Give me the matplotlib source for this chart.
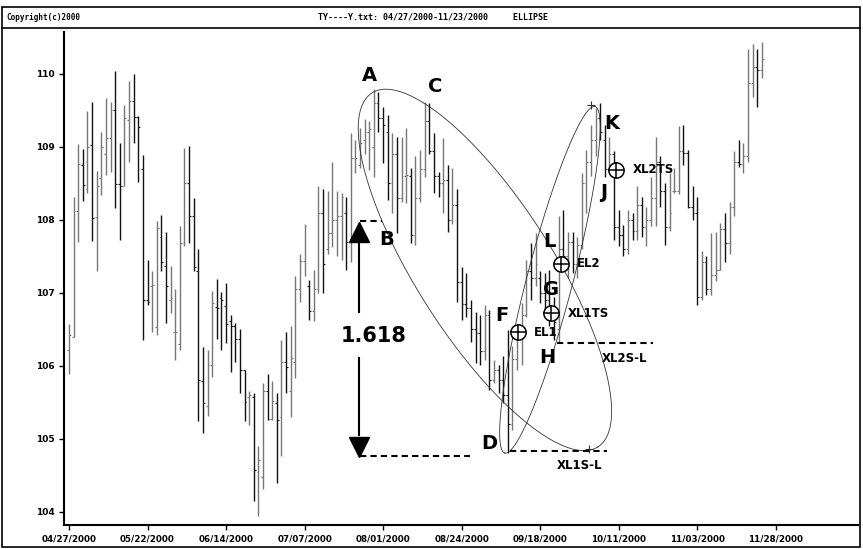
import numpy as np
import matplotlib
matplotlib.use("Agg")
import matplotlib.pyplot as plt
from matplotlib.patches import Rectangle
from matplotlib.lines import Line2D

# daily OHLC (bar index 0 = 04/27/2000)
opens = [106.22, 106.40, 108.12, 108.75, 108.43, 109.02, 108.04, 108.57, 108.91, 109.12,
         109.51, 108.49, 108.47, 109.37, 109.63, 109.41, 108.70, 106.90, 107.09, 106.53,
         107.76, 107.37, 106.90, 106.46, 106.30, 107.68, 108.50, 108.05, 107.30, 105.79,
         105.45, 106.01, 106.81, 106.93, 106.82, 106.61, 106.54, 106.37, 105.94, 105.58,
         105.57, 104.55, 104.48, 105.65, 105.27, 105.49, 105.30, 106.06, 105.65, 106.06,
         107.05, 107.44, 107.10, 106.75, 107.06, 108.09, 107.60, 107.82, 108.00, 108.05,
         108.10, 107.70, 108.85, 108.75, 109.10, 109.20, 109.00, 109.60, 109.40, 109.20,
         108.50, 108.90, 108.30, 108.60, 108.60, 107.80, 108.30, 108.70, 109.35, 108.95,
         108.60, 108.50, 108.55, 108.00, 108.20, 107.15, 106.85, 106.80, 106.50, 106.45,
         106.20, 106.70, 105.80, 105.95, 105.80, 105.60, 105.20, 106.10, 106.40, 106.70,
         107.30, 107.20, 107.20, 107.00, 106.90, 106.80, 106.50, 107.60, 107.50, 107.70,
         107.40, 107.65, 108.50, 108.80, 109.10, 109.40, 109.10, 108.70, 108.90, 107.90,
         107.80, 107.60, 108.00, 107.85, 108.20, 107.90, 108.00, 108.30, 108.80, 108.40,
         107.90, 108.40, 108.40, 108.95, 108.92, 108.18, 108.10, 106.95, 107.42, 107.05,
         107.25, 107.32, 107.88, 107.68, 108.18, 108.80, 108.77, 108.87, 109.88, 110.10,
         110.05]
highs = [106.58, 108.32, 109.04, 108.97, 109.49, 109.62, 108.67, 109.20, 109.67, 109.62,
         110.04, 109.05, 109.58, 109.90, 110.00, 109.43, 108.89, 107.45, 107.30, 107.98,
         108.07, 107.83, 107.37, 107.05, 107.91, 108.98, 109.01, 108.30, 107.60, 106.26,
         106.22, 107.02, 107.19, 107.01, 107.14, 106.70, 106.59, 106.50, 105.95, 105.66,
         105.63, 104.90, 105.76, 105.89, 105.79, 105.63, 106.36, 106.46, 106.54, 107.23,
         107.53, 107.95, 107.18, 107.31, 108.46, 108.43, 108.39, 108.80, 108.39, 108.37,
         108.32, 109.19, 109.10, 109.26, 109.38, 109.35, 109.80, 109.75, 109.55, 109.44,
         109.19, 109.14, 109.14, 109.26, 108.71, 108.87, 108.96, 109.62, 109.60, 109.19,
         108.66, 109.12, 108.75, 108.71, 108.43, 107.36, 107.27, 106.90, 106.74, 106.70,
         106.84, 106.77, 106.08, 106.01, 106.13, 106.49, 106.27, 106.50, 106.86, 107.45,
         107.68, 107.82, 107.30, 107.27, 107.31, 106.95, 108.05, 108.14, 107.84, 107.84,
         107.77, 108.64, 108.96, 109.30, 109.53, 109.60, 109.30, 109.14, 108.95, 108.14,
         107.93, 108.14, 108.09, 108.46, 108.32, 108.18, 108.59, 109.14, 108.87, 108.50,
         108.64, 108.71, 109.29, 109.30, 108.96, 108.46, 108.31, 107.58, 107.51, 107.82,
         107.83, 107.96, 108.10, 108.24, 108.94, 109.10, 109.05, 110.34, 110.41, 110.34,
         110.44]
lows = [105.89, 106.39, 107.70, 108.26, 108.37, 107.71, 107.30, 108.34, 108.61, 108.65,
        108.16, 107.73, 108.47, 108.80, 109.06, 108.52, 106.36, 106.84, 106.46, 106.43,
        107.30, 106.59, 106.73, 106.08, 106.22, 107.64, 107.68, 107.30, 105.25, 105.08,
        105.32, 105.85, 106.37, 106.22, 106.32, 105.91, 106.05, 105.63, 105.25, 105.19,
        104.15, 103.94, 104.31, 105.26, 105.26, 104.40, 104.77, 105.63, 105.30, 105.83,
        106.87, 107.23, 106.63, 106.61, 107.00, 107.00, 107.54, 107.63, 107.50, 107.45,
        107.31, 107.43, 108.64, 108.71, 108.91, 108.68, 108.59, 109.21, 108.78, 108.27,
        108.09, 107.82, 108.25, 108.23, 107.68, 107.66, 108.25, 108.59, 108.91, 108.37,
        108.32, 108.09, 107.84, 107.95, 106.88, 106.63, 106.67, 106.33, 106.04, 106.01,
        106.08, 105.67, 105.76, 105.63, 105.49, 104.81, 105.12, 105.95, 106.01, 106.67,
        106.90, 107.10, 106.86, 106.67, 106.54, 106.36, 106.31, 107.32, 107.20, 107.27,
        107.20, 107.60, 108.09, 108.60, 108.87, 109.10, 108.59, 108.64, 107.73, 107.64,
        107.50, 107.54, 107.73, 107.73, 107.77, 107.64, 107.91, 107.91, 108.18, 107.66,
        107.85, 108.37, 108.35, 108.75, 108.16, 108.00, 106.84, 106.90, 106.97, 106.97,
        107.16, 107.31, 107.43, 107.54, 108.05, 108.73, 108.64, 108.80, 109.68, 109.55,
        109.95]
closes = [106.42, 108.12, 108.77, 108.48, 109.00, 108.02, 108.47, 109.00, 109.12, 109.51,
          108.49, 108.47, 109.39, 109.63, 109.41, 109.27, 106.90, 106.88, 107.11, 107.89,
          107.42, 107.10, 106.93, 106.46, 107.68, 108.50, 108.05, 107.35, 105.80, 105.49,
          106.01, 106.86, 106.79, 106.90, 106.58, 106.55, 106.37, 105.95, 105.50, 105.60,
          104.57, 104.71, 105.65, 105.27, 105.52, 105.26, 106.06, 105.99, 106.11, 107.05,
          107.44, 107.91, 106.75, 107.06, 108.10, 107.40, 107.82, 108.00, 108.05, 108.32,
          107.70, 108.85, 108.85, 109.05, 109.20, 109.25, 109.60, 109.40, 109.30, 108.50,
          108.90, 108.30, 108.60, 108.62, 107.80, 108.30, 108.70, 109.35, 108.95, 108.60,
          108.50, 108.55, 108.00, 108.20, 107.15, 106.85, 106.80, 106.50, 106.45, 106.20,
          106.70, 105.80, 105.95, 105.80, 105.60, 105.20, 106.10, 106.40, 106.70, 107.30,
          107.20, 107.40, 107.00, 106.90, 106.80, 106.60, 107.60, 107.50, 107.70, 107.40,
          107.65, 108.50, 108.80, 109.10, 109.40, 109.20, 108.70, 108.90, 107.90, 107.80,
          107.60, 108.00, 107.85, 108.20, 107.90, 108.00, 108.30, 108.80, 108.40, 107.90,
          108.10, 108.40, 108.95, 108.92, 108.18, 108.10, 106.95, 107.42, 107.05, 107.25,
          107.32, 107.88, 107.68, 108.18, 108.80, 108.77, 108.87, 109.88, 110.10, 110.05,
          110.20]

date_labels = ['04/27/2000', '05/22/2000', '06/14/2000', '07/07/2000', '08/01/2000',
               '08/24/2000', '09/18/2000', '10/11/2000', '11/03/2000', '11/28/2000']
bars_per_label = 17
price_ticks = [104, 105, 106, 107, 108, 109, 110]

# ellipses: centre and two conjugate semi-diameters, in (bar, price)
ell1 = ((90.04, 107.315), (24.46, -2.425), (12.41, 0.501))
ell2 = ((104.11, 107.18), (-9.76, -2.374), (4.82, -0.079))

# pattern letters (bar, price)
letters = {'A': (65.0, 109.98), 'C': (79.2, 109.83), 'B': (68.7, 107.73),
           'L': (103.9, 107.70), 'G': (104.3, 107.05), 'F': (93.7, 106.69),
           'H': (103.5, 106.11), 'D': (90.9, 104.93), 'K': (117.5, 109.32),
           'J': (115.8, 108.38)}
# entry / exit circles (bar, price, label)
circles = [(97.1, 106.46, 'EL1'), (106.4, 107.40, 'EL2'),
           (104.4, 106.72, 'XL1TS'), (118.5, 108.69, 'XL2TS')]

n = len(closes)
x = np.arange(n)
o = np.array(opens); h = np.array(highs); l = np.array(lows); c = np.array(closes)

fig = plt.figure(figsize=(8.63, 5.49), dpi=100)
ax = fig.add_axes([64/863, 24/549, 794/863, 493/549])

# bars: up days grey, down days near black
up = c >= o
cols = np.where(up, '#777777', '#111111')
ax.vlines(x, l, h, colors=cols, lw=1.0)
ax.hlines(o, x - 0.4, x, colors=cols, lw=0.8)
ax.hlines(c, x, x + 0.4, colors=cols, lw=0.8)

t = np.linspace(0, 2*np.pi, 500)
for (cx, cy), u, v in (ell1, ell2):
    ax.plot(cx + u[0]*np.cos(t) + v[0]*np.sin(t),
            cy + u[1]*np.cos(t) + v[1]*np.sin(t), color='#333333', lw=0.6)
ax.plot([113.1, 112.55], [109.575, 104.86], '+', color='#333333', ms=6, mew=0.8)

# fib projection arrow
ax.plot([62.8, 62.8], [107.68, 106.74], color='black', lw=1.5)
ax.plot([62.8, 62.8], [106.11, 105.05], color='black', lw=1.5)
ax.plot(62.8, 107.83, '^', color='black', ms=14)
ax.plot(62.8, 104.89, 'v', color='black', ms=14)
ax.text(66.0, 106.41, '1.618', fontsize=15, fontweight='bold', ha='center', va='center')

dash = (0, (3, 2))
ax.plot([63.0, 67.7], [107.98, 107.98], color='black', lw=1.5, ls=dash)
ax.plot([63.0, 86.8], [104.77, 104.77], color='black', lw=1.5, ls=dash)
ax.plot([95.5, 116.5], [104.84, 104.84], color='black', lw=1.5, ls=dash)
ax.plot([105.6, 126.4], [106.31, 106.31], color='black', lw=1.5, ls=dash)
ax.text(120.3, 106.10, 'XL2S-L', fontsize=8.5, fontweight='bold', ha='center', va='center')
ax.text(110.6, 104.63, 'XL1S-L', fontsize=8.5, fontweight='bold', ha='center', va='center')

for k, (bx, by) in letters.items():
    ax.text(bx, by, k, fontsize=14, fontweight='bold', ha='center', va='center')

for bx, by, lab in circles:
    ax.plot(bx, by, 'o', mfc='white', mec='black', ms=11, mew=1.1)
    ax.plot(bx, by, '+', color='black', ms=11, mew=1.1)
    ax.text(bx + 3.5, by, lab, fontsize=8.5, fontweight='bold', ha='left', va='center')

ax.set_xlim(-1.08, 170.8)
ax.set_ylim(103.82, 110.575)
ax.set_yticks(price_ticks)
ax.set_yticklabels([str(p) for p in price_ticks], fontsize=6.5, fontweight='bold')
ax.set_xticks(np.arange(len(date_labels)) * bars_per_label)
ax.set_xticklabels(date_labels, fontsize=6.3, fontweight='bold')
ax.tick_params(direction='out', length=3.5, width=1, pad=3)
for s in ('top', 'right'):
    ax.spines[s].set_visible(False)
for s in ('left', 'bottom'):
    ax.spines[s].set_linewidth(1.5)

# outer frame and header strip
fig.add_artist(Rectangle((2/863, 2/549), 858/863, 540/549, transform=fig.transFigure,
                         fill=False, ec='black', lw=1.2))
fig.add_artist(Line2D([2/863, 860/863], [1 - 28/549, 1 - 28/549],
                      transform=fig.transFigure, color='black', lw=1.2))
fig.text(6/863, 1 - 17/549, 'Copyright(c)2000', family='DejaVu Sans Mono',
         fontsize=5.5, fontweight='bold', va='center')
fig.text(318/863, 1 - 17/549, 'TY----Y.txt: 04/27/2000-11/23/2000     ELLIPSE',
         family='DejaVu Sans Mono', fontsize=6, fontweight='bold', va='center')

fig.savefig('out.png', dpi=100)
